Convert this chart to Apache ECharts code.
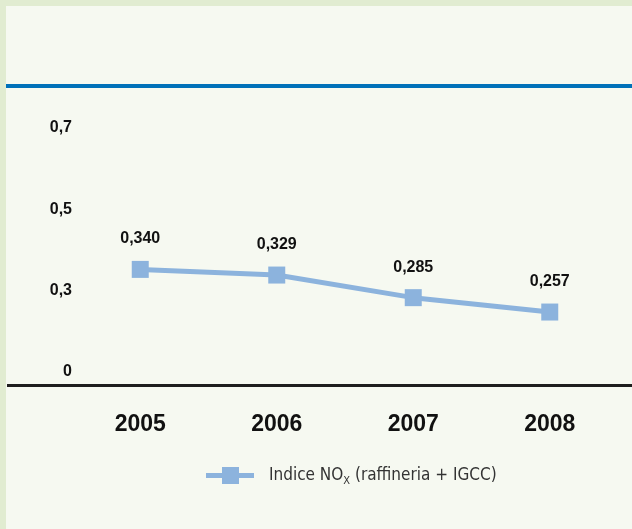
<!DOCTYPE html>
<html>
<head>
<meta charset="utf-8">
<script src="https://cdn.jsdelivr.net/npm/echarts@6/dist/echarts.min.js"></script>
<style>
  html, body { margin: 0; padding: 0; background: #f6f9f1; }
  #chart { width: 632px; height: 529px; }
</style>
</head>
<body>
<div id="chart"></div>
<script>
// NOx index, refinery + IGCC plant
const years = ['2005', '2006', '2007', '2008'];
const noxIndex = [0.340, 0.329, 0.285, 0.257];
// printed scale marks on the left
const yTickLabels = ['0', '0,3', '0,5', '0,7'];

const W = 632, H = 529;
const plotTop = 87, plotBottom = 385;      // blue rule / black base line
const fmt = v => v.toFixed(3).replace('.', ',');
const narrow = 'DejaVu Sans Condensed, Liberation Sans Narrow, Liberation Sans, Arial, sans-serif';

const chart = echarts.init(document.getElementById('chart'), null, { renderer: 'canvas' });

chart.setOption({
  backgroundColor: '#f6f9f1',
  animation: false,
  textStyle: { fontFamily: 'Liberation Sans, Arial, sans-serif' },
  grid: [
    // plotting area for the series
    { left: 72, right: 14, top: plotTop, bottom: H - plotBottom },
    // scale marks column
    { left: 80, width: 20, top: 128, height: 244 }
  ],
  xAxis: [
    {
      gridIndex: 0, type: 'category', data: years, boundaryGap: true,
      axisLine: { show: false }, axisTick: { show: false },
      axisLabel: {
        margin: 28, color: '#111', fontSize: 23, fontWeight: 'bold',
        fontFamily: 'Liberation Sans, Arial, sans-serif'
      }
    },
    { gridIndex: 1, type: 'value', show: false }
  ],
  yAxis: [
    {
      gridIndex: 0, type: 'value', min: 0.115, max: 0.695, show: false
    },
    {
      gridIndex: 1, type: 'value', min: 0, max: yTickLabels.length - 1, interval: 1,
      axisLine: { show: false }, axisTick: { show: false }, splitLine: { show: false },
      axisLabel: {
        margin: 8, color: '#111', fontSize: 16, fontWeight: 'bold',
        formatter: v => yTickLabels[Math.round(v)]
      }
    }
  ],
  legend: {
    left: 201, top: 462,
    itemWidth: 48, itemHeight: 17, itemGap: 10,
    icon: 'path://M0,6H16V0H33V6H48V11H33V17H16V11H0Z',
    textStyle: {
      color: '#333', fontSize: 17, padding: [0, 0, 0, 10],
      fontFamily: narrow,
      rich: {
        a: { fontSize: 17, color: '#333', fontFamily: narrow },
        sub: { fontSize: 11, color: '#333', padding: [12, 0, 0, 0], fontFamily: narrow }
      }
    },
    formatter: () => '{a|Indice NO}{sub|X}{a| (raffineria + IGCC)}',
    data: ['nox']
  },
  series: [
    {
      name: 'nox',
      type: 'line',
      xAxisIndex: 0, yAxisIndex: 0,
      data: noxIndex,
      symbol: 'rect', symbolSize: 17,
      lineStyle: { color: '#8cb3dd', width: 5 },
      itemStyle: { color: '#8cb3dd' },
      label: {
        show: true, position: 'top', distance: 14,
        color: '#111', fontSize: 16, fontWeight: 'bold',
        formatter: p => fmt(p.value)
      }
    }
  ],
  graphic: [
    // pale green frame on top and left
    { type: 'rect', left: 0, top: 0, shape: { width: W, height: 6 }, style: { fill: '#e1ecd1' }, z: 0 },
    { type: 'rect', left: 0, top: 0, shape: { width: 6, height: H }, style: { fill: '#e1ecd1' }, z: 0 },
    // blue header rule
    { type: 'rect', left: 6, top: plotTop - 3, shape: { width: W - 6, height: 4 }, style: { fill: '#0071b9' }, z: 1 },
    // black base line
    { type: 'rect', left: 7, top: plotBottom - 1, shape: { width: W - 7, height: 3 }, style: { fill: '#1e1e1e' }, z: 1 }
  ]
});
</script>
</body>
</html>
